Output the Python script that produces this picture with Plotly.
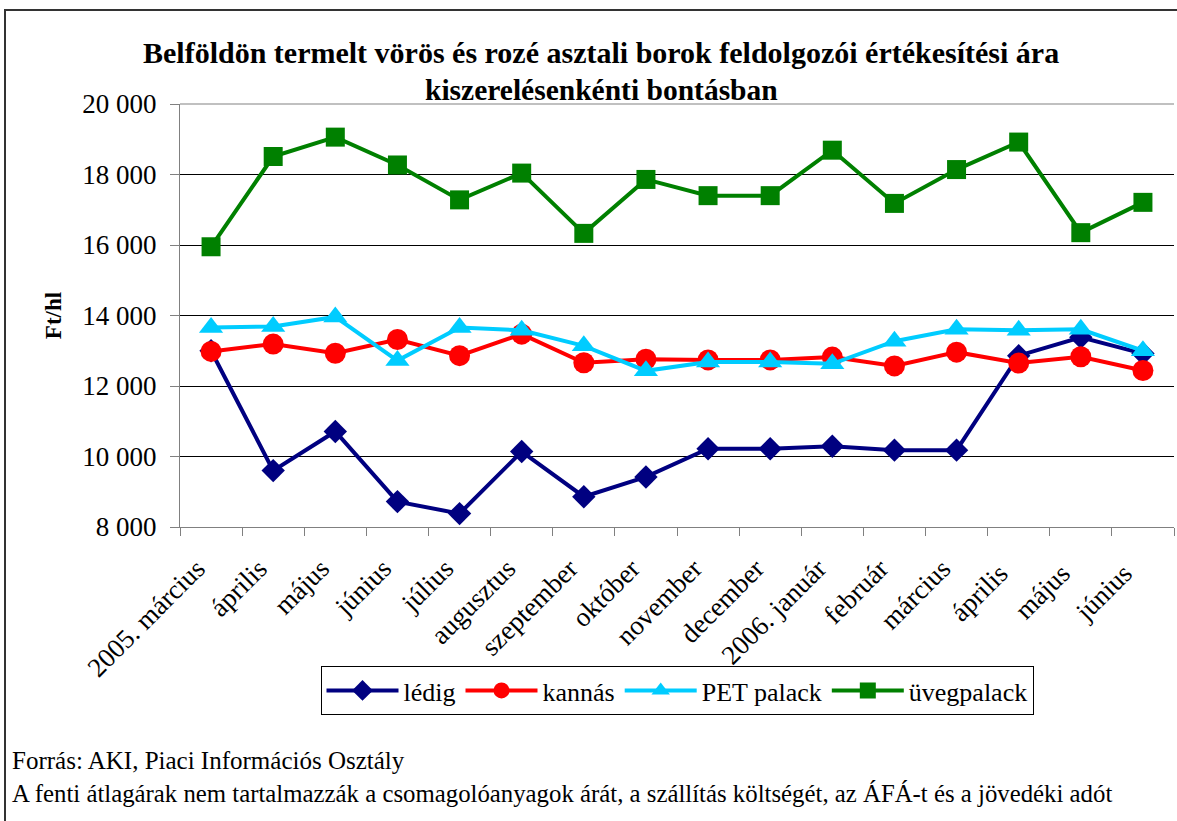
import plotly.graph_objects as go

categories = ["2005. március", "április", "május", "június", "július", "augusztus",
              "szeptember", "október", "november", "december", "2006. január",
              "február", "március", "április ", "május ", "június "]

ledig = [13000, 9600, 10710, 8720, 8380, 10140, 8860, 9420,
         10220, 10220, 10290, 10180, 10180, 12860, 13380, 12920]
kannas = [12980, 13190, 12930, 13320, 12860, 13470, 12660, 12760,
          12740, 12740, 12820, 12570, 12960, 12650, 12830, 12440]
pet = [13660, 13690, 13960, 12720, 13660, 13580, 13140, 12430,
       12680, 12680, 12630, 13270, 13610, 13580, 13610, 13000]
uveg = [15950, 18510, 19060, 18270, 17280, 18040, 16330, 17860,
        17400, 17400, 18690, 17180, 18140, 18920, 16350, 17210]

series_names = ["lédig", "kannás", "PET palack", "üvegpalack"]
colors = ["#000080", "#FF0000", "#00CCFF", "#008000"]
symbols = ["diamond", "circle", "triangle-up", "square"]
sizes = [18, 21, 21, 19]

ytickvals = [8000, 10000, 12000, 14000, 16000, 18000, 20000]
yticktext = ["8 000", "10 000", "12 000", "14 000", "16 000", "18 000", "20 000"]

FONT = "Liberation Serif, Times New Roman, serif"

fig = go.Figure()
for name, vals, col, sym, sz in zip(series_names, [ledig, kannas, pet, uveg], colors, symbols, sizes):
    fig.add_trace(go.Scatter(
        x=categories, y=vals, name=name, mode="lines+markers",
        line=dict(color=col, width=4),
        marker=dict(symbol=sym, size=sz, color=col),
    ))

W, H = 1177, 821
L, R, T, B = 180, 3, 104, 294
pw, ph = W - L - R, H - T - B

def px(x):
    return (x - L) / pw

def py(y):
    return (H - B - y) / ph

fig.update_layout(
    width=W, height=H,
    margin=dict(l=L, r=R, t=T, b=B),
    paper_bgcolor="white", plot_bgcolor="white",
    font=dict(family=FONT, color="black", size=26),
    showlegend=True,
    legend=dict(
        orientation="h", x=px(677), xanchor="center", y=py(666), yanchor="top",
        bordercolor="black", borderwidth=1, bgcolor="white",
        font=dict(family=FONT, size=26), itemwidth=72,
        tracegroupgap=0,
    ),
    xaxis=dict(
        type="category", range=[-0.5, 15.5],
        showline=True, linecolor="#808080", linewidth=1,
        ticks="outside", tickson="boundaries", ticklen=8, tickcolor="#808080",
        tickangle=-45, showgrid=False,
        ticklabelstandoff=14, ticklabelshift=-14,
        tickfont=dict(family=FONT, size=27),
    ),
    yaxis=dict(
        range=[8000, 20000], tickvals=ytickvals, ticktext=yticktext,
        showline=True, linecolor="#808080", linewidth=1,
        ticks="outside", ticklen=9, tickcolor="#808080",
        showgrid=True, gridcolor="black", gridwidth=1,
        ticklabelstandoff=8,
        tickfont=dict(family=FONT, size=27),
        title=dict(text="<b>Ft/hl</b>", font=dict(family=FONT, size=23), standoff=14),
    ),
    shapes=[
        dict(type="line", xref="paper", yref="paper", x0=0, x1=1, y0=1, y1=1,
             line=dict(color="#C0C0C0", width=2), layer="above"),
        dict(type="rect", xref="paper", yref="paper", x0=px(5), x1=px(1185), y0=py(10), y1=py(835),
             line=dict(color="#333333", width=2), layer="below"),
    ],
    annotations=[
        dict(text="<b>Belföldön termelt vörös és rozé asztali borok feldolgozói értékesítési ára</b>",
             xref="paper", yref="paper", x=px(601), y=py(52), xanchor="center", yanchor="middle",
             showarrow=False, font=dict(family=FONT, size=30)),
        dict(text="<b>kiszerelésenkénti bontásban</b>",
             xref="paper", yref="paper", x=px(601), y=py(90), xanchor="center", yanchor="middle",
             showarrow=False, font=dict(family=FONT, size=29.5)),
        dict(text="Forrás: AKI, Piaci Információs Osztály",
             xref="paper", yref="paper", x=px(10), y=py(760), xanchor="left", yanchor="middle",
             showarrow=False, font=dict(family=FONT, size=25)),
        dict(text="A fenti átlagárak nem tartalmazzák a csomagolóanyagok árát, a szállítás költségét, az ÁFÁ-t és a jövedéki adót",
             xref="paper", yref="paper", x=px(10), y=py(793), xanchor="left", yanchor="middle",
             showarrow=False, font=dict(family=FONT, size=24.8)),
    ],
)

fig.write_html("out.html", config={"displayModeBar": False},
               post_script="document.body.style.margin='0';document.body.style.overflow='hidden';")
